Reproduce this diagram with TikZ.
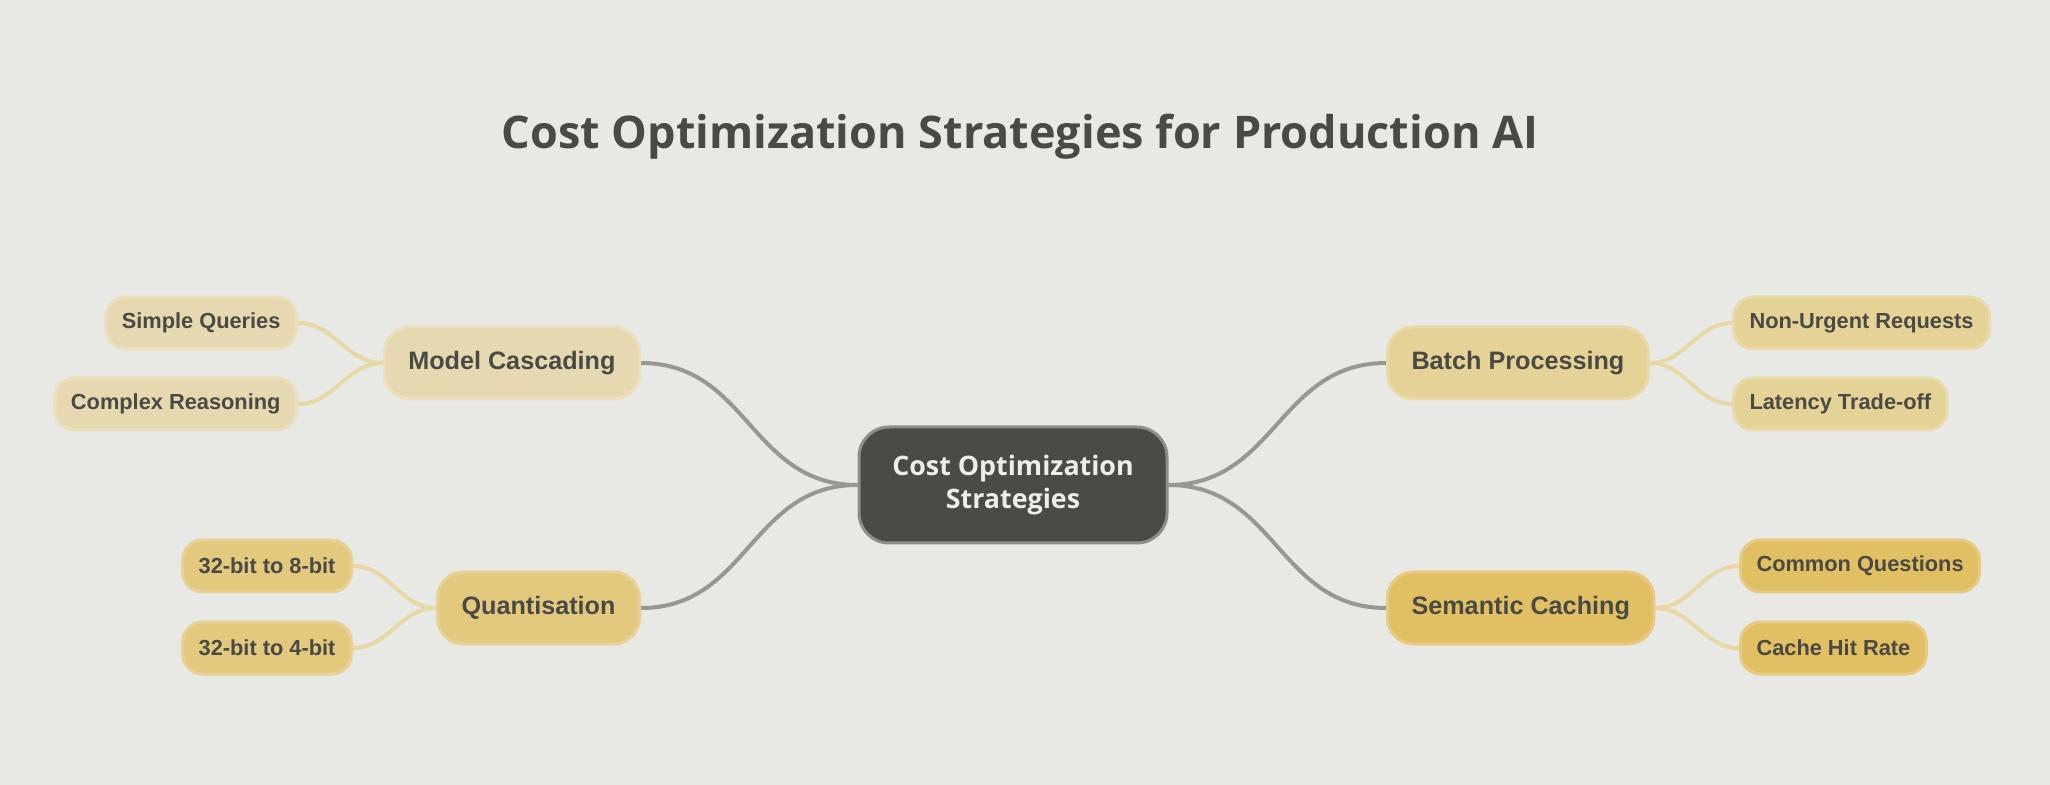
\documentclass[tikz,border=0pt]{standalone}
\usepackage{fontspec}
\usetikzlibrary{backgrounds}
\setmainfont{Liberation Sans}
\newfontfamily\titlefont{Open Sans}
\definecolor{bgcol}{HTML}{E8E8E5}
\definecolor{inkcol}{HTML}{494A44}
\definecolor{rootfill}{HTML}{4A4B45}
\definecolor{rootdraw}{HTML}{8E8E89}
\definecolor{roottext}{HTML}{EFEDE6}
\definecolor{cascfill}{HTML}{E6D9B1}
\definecolor{cascdraw}{HTML}{ECDFBD}
\definecolor{batchfill}{HTML}{E5D297}
\definecolor{batchdraw}{HTML}{EAD9A9}
\definecolor{quantfill}{HTML}{E3C97E}
\definecolor{quantdraw}{HTML}{E8D195}
\definecolor{semfill}{HTML}{E1BF63}
\definecolor{semdraw}{HTML}{E7CB84}
\definecolor{trunkcol}{HTML}{989893}
\definecolor{twigcol}{HTML}{E8D8A5}
\begin{document}
\begin{tikzpicture}[x=0.5pt,y=-0.5pt,line join=round,line cap=round,
	root/.style={draw=rootdraw,line width=1.5pt,fill=rootfill,text=roottext,rounded corners=15pt,
		align=center,minimum width=154pt,minimum height=58pt,font=\titlefont\bfseries\fontsize{13.4}{16.5}\selectfont},
	branch/.style={line width=1.5pt,rounded corners=13pt,text=inkcol,minimum height=36pt,inner xsep=12pt,
		font=\bfseries\fontsize{12.6}{15}\selectfont},
	leaf/.style={line width=1.5pt,rounded corners=10pt,text=inkcol,minimum height=26pt,inner xsep=8pt,
		font=\bfseries\fontsize{10.9}{13}\selectfont},
	trunk/.style={draw=trunkcol,line width=2pt},
	twig/.style={draw=twigcol,line width=2pt}]
	\node[text=inkcol,font=\titlefont\bfseries\fontsize{22.5}{27}\selectfont] (title) at (1020,137) {Cost Optimization Strategies for Production AI};
	% centre and branches
	\node[root] (root) at (1013,485) {Cost Optimization\\Strategies};
	\node[branch,fill=cascfill,draw=cascdraw,anchor=east] (casc) at (641,363) {Model Cascading};
	\node[branch,fill=quantfill,draw=quantdraw,anchor=east] (quant) at (641,608) {Quantisation};
	\node[branch,fill=batchfill,draw=batchdraw,anchor=west] (batch) at (1386,363) {Batch Processing};
	\node[branch,fill=semfill,draw=semdraw,anchor=west] (sem) at (1386,608) {Semantic Caching};
	% leaves
	\node[leaf,fill=cascfill,draw=cascdraw,anchor=east] (simple) at (298,323) {Simple Queries};
	\node[leaf,fill=cascfill,draw=cascdraw,anchor=east] (complex) at (298,404) {Complex Reasoning};
	\node[leaf,fill=quantfill,draw=quantdraw,anchor=east] (eight) at (353,566) {32-bit to 8-bit};
	\node[leaf,fill=quantfill,draw=quantdraw,anchor=east] (four) at (353,648) {32-bit to 4-bit};
	\node[leaf,fill=batchfill,draw=batchdraw,anchor=west] (urgent) at (1732,323) {Non-Urgent Requests};
	\node[leaf,fill=batchfill,draw=batchdraw,anchor=west] (latency) at (1732,404) {Latency Trade-off};
	\node[leaf,fill=semfill,draw=semdraw,anchor=west] (common) at (1739,566) {Common Questions};
	\node[leaf,fill=semfill,draw=semdraw,anchor=west] (hit) at (1739,648) {Cache Hit Rate};
	\begin{pgfonlayer}{background}
	\path[fill=bgcol] (0,0) rectangle (2050,785);
	\draw[trunk] (root.west) to[out=180,in=0,looseness=1.1] (casc.east);
	\draw[trunk] (root.west) to[out=180,in=0,looseness=1.1] (quant.east);
	\draw[trunk] (root.east) to[out=0,in=180,looseness=1.1] (batch.west);
	\draw[trunk] (root.east) to[out=0,in=180,looseness=1.1] (sem.west);
	\draw[twig] (casc.west) to[out=180,in=0] (simple.east);
	\draw[twig] (casc.west) to[out=180,in=0] (complex.east);
	\draw[twig] (quant.west) to[out=180,in=0] (eight.east);
	\draw[twig] (quant.west) to[out=180,in=0] (four.east);
	\draw[twig] (batch.east) to[out=0,in=180] (urgent.west);
	\draw[twig] (batch.east) to[out=0,in=180] (latency.west);
	\draw[twig] (sem.east) to[out=0,in=180] (common.west);
	\draw[twig] (sem.east) to[out=0,in=180] (hit.west);
	\end{pgfonlayer}
\end{tikzpicture}
\end{document}
